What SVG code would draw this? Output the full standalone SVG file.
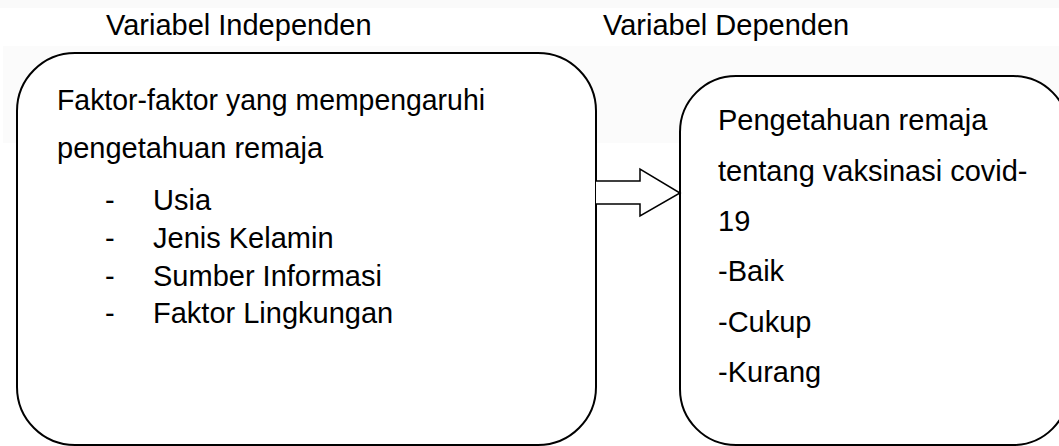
<svg xmlns="http://www.w3.org/2000/svg" width="1059" height="446" viewBox="0 0 1059 446">
<style>
.t{font-family:"Liberation Sans",Arial,sans-serif;font-size:29px;fill:#000}
.box{fill:#fff;stroke:#000;stroke-width:2}
.arr{fill:#fff;stroke:#000;stroke-width:1.5;stroke-linejoin:miter}
</style>
<rect x="0" y="0" width="1059" height="446" fill="#fff"/>
<rect x="0" y="0" width="1059" height="8" fill="#fafafa"/>
<rect x="3" y="46" width="1056" height="97" fill="#fbfbfb"/>
<g id="labels">
<text class="t" x="106" y="35">Variabel Independen</text>
<text class="t" x="603" y="35">Variabel Dependen</text>
</g>
<g id="independen">
<rect class="box" x="17" y="53" width="579" height="392" rx="58" ry="58"/>
<text class="t" x="57" y="110" textLength="428" lengthAdjust="spacingAndGlyphs">Faktor-faktor yang mempengaruhi</text>
<text class="t" x="57" y="158">pengetahuan remaja</text>
<text class="t" x="105" y="210">-</text><text class="t" x="153" y="210">Usia</text>
<text class="t" x="105" y="248">-</text><text class="t" x="153" y="248">Jenis Kelamin</text>
<text class="t" x="105" y="286">-</text><text class="t" x="153" y="286">Sumber Informasi</text>
<text class="t" x="105" y="323">-</text><text class="t" x="153" y="323">Faktor Lingkungan</text>
</g>
<g id="dependen">
<rect class="box" x="680" y="76" width="389" height="369" rx="56" ry="56"/>
<text class="t" x="718" y="130">Pengetahuan remaja</text>
<text class="t" x="718" y="180.5">tentang vaksinasi covid-</text>
<text class="t" x="718" y="231">19</text>
<text class="t" x="718" y="281">-Baik</text>
<text class="t" x="718" y="331.5">-Cukup</text>
<text class="t" x="718" y="382">-Kurang</text>
</g>
<g id="connectors">
<path class="arr" d="M596,181 H640 V169 L680,193 L640,216 V204 H596"/>
</g>
</svg>
